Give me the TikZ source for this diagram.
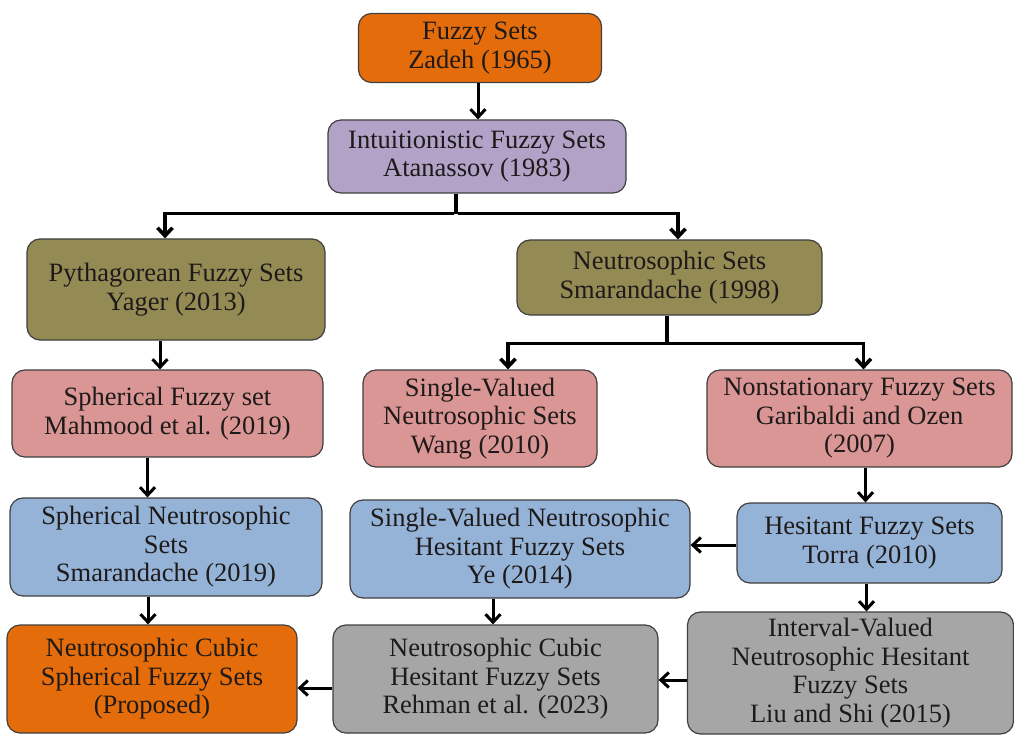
\documentclass[tikz,border=0pt]{standalone}
\usepackage{fontspec}
\setmainfont{Liberation Serif}
\usetikzlibrary{arrows.meta}
\definecolor{corange}{HTML}{E46C0A}
\definecolor{cpurple}{HTML}{B3A2C7}
\definecolor{colive}{HTML}{948A54}
\definecolor{cpink}{HTML}{D99694}
\definecolor{cblue}{HTML}{95B3D7}
\definecolor{cgray}{HTML}{A6A6A6}
\definecolor{ctext}{HTML}{1E1A1A}
\tikzset{
  box/.style={draw=black!75, line width=1.2pt, rounded corners=13pt, align=center,
    text=ctext, font=\fontsize{26.5}{28.5}\selectfont, inner sep=0pt},
  bus/.style={draw=black, line width=4.2pt},
  arr/.style={draw=black, line width=3pt, -{Straight Barb[length=8pt,width=15pt]}},
  busarr/.style={draw=black, line width=3.6pt, -{Straight Barb[length=8pt,width=15pt]}},
}
\begin{document}
\begin{tikzpicture}[x=1pt,y=-1pt]
\useasboundingbox[fill=white] (0,0) rectangle (1014,735);

\node[box, fill=corange, minimum width=243, minimum height=69] (fz) at (480,48) {Fuzzy Sets\\Zadeh (1965)};
\node[box, fill=cpurple, minimum width=298, minimum height=73] (ifs) at (477,156.5) {Intuitionistic Fuzzy Sets\\Atanassov (1983)};
\node[box, fill=colive, minimum width=298, minimum height=101] (pfs) at (176,289.5) {Pythagorean Fuzzy Sets\\Yager (2013)};
\node[box, fill=colive, minimum width=305, minimum height=75] (ns) at (669.5,277.5) {Neutrosophic Sets\\Smarandache (1998)};
\node[box, fill=cpink, minimum width=311, minimum height=87] (sfs) at (167.5,413.5) {Spherical Fuzzy set\\Mahmood et al. (2019)};
\node[box, fill=cpink, minimum width=234, minimum height=97] (svns) at (480,418.5) {Single-Valued\\Neutrosophic Sets\\Wang (2010)};
\node[box, fill=cpink, minimum width=305, minimum height=97] (nfs) at (859.5,418.5) {Nonstationary Fuzzy Sets\\Garibaldi and Ozen\\(2007)};
\node[box, fill=cblue, minimum width=312, minimum height=98] (sns) at (166,547) {Spherical Neutrosophic\\Sets\\Smarandache (2019)};
\node[box, fill=cblue, minimum width=340, minimum height=98] (svnhfs) at (520,549) {Single-Valued Neutrosophic\\Hesitant Fuzzy Sets\\Ye (2014)};
\node[box, fill=cblue, minimum width=265, minimum height=80] (hfs) at (869.5,543) {Hesitant Fuzzy Sets\\Torra (2010)};
\node[box, fill=corange, minimum width=290, minimum height=108] (prop) at (152,679) {Neutrosophic Cubic\\Spherical Fuzzy Sets\\(Proposed)};
\node[box, fill=cgray, minimum width=325, minimum height=108] (nchfs) at (495.5,679) {Neutrosophic Cubic\\Hesitant Fuzzy Sets\\Rehman et al. (2023)};
\node[box, fill=cgray, minimum width=326, minimum height=122] (ivnhfs) at (850.5,673) {Interval-Valued\\Neutrosophic Hesitant\\Fuzzy Sets\\Liu and Shi (2015)};

% connectors
\draw[arr] ([xshift=-2]fz.south) -- ([xshift=-2]fz.south |- ifs.north);

\draw[bus] ([xshift=-21]ifs.south) -- ++(0,20) coordinate (j1);
\draw[busarr] ([xshift=-2pt]j1) -| ([xshift=-11]pfs.north);
\draw[busarr] ([xshift=2pt]j1) -| ([xshift=8.5]ns.north);

\draw[bus] ([xshift=-2.5]ns.south) -- ++(0,28) coordinate (j2);
\draw[busarr] ([xshift=2pt]j2) -| ([xshift=28]svns.north);
\draw[busarr] ([xshift=-2pt]j2) -| ([xshift=4]nfs.north);

\draw[arr] ([xshift=-16]pfs.south) -- ([xshift=-16]pfs.south |- sfs.north);
\draw[arr] ([xshift=-20]sfs.south) -- ([xshift=-20]sfs.south |- sns.north);
\draw[arr] ([xshift=-18]sns.south) -- ([xshift=-18]sns.south |- prop.north);
\draw[arr] ([xshift=6]nfs.south) -- ([xshift=6]nfs.south |- hfs.north);
\draw[arr] ([xshift=-27]svnhfs.south) -- ([xshift=-27]svnhfs.south |- nchfs.north);
\draw[arr] ([xshift=-3]hfs.south) -- ([xshift=-3]hfs.south |- ivnhfs.north);
\draw[arr] ([yshift=-2]hfs.west) -- ([yshift=-2]hfs.west -| svnhfs.east);
\draw[arr] ([yshift=-7]ivnhfs.west) -- ([yshift=-7]ivnhfs.west -| nchfs.east);
\draw[arr] ([yshift=-9]nchfs.west) -- ([yshift=-9]nchfs.west -| prop.east);
\end{tikzpicture}
\end{document}
